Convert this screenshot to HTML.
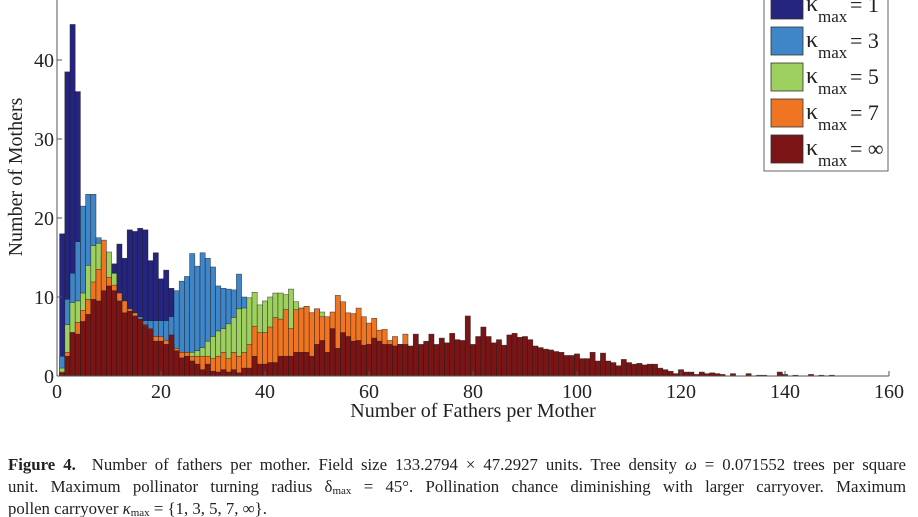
<!DOCTYPE html>
<html><head><meta charset="utf-8"><style>
html,body{margin:0;padding:0;background:#fff;}
#wrap{position:relative;width:918px;height:517px;overflow:hidden;font-family:"Liberation Serif",serif;}
#cap{position:absolute;left:8px;top:454px;width:898px;font-size:16.8px;line-height:21.8px;color:#222;}
#cap .j{display:block;text-align:justify;text-align-last:justify;white-space:nowrap;}
#cap .l{display:block;white-space:nowrap;}
#cap sub{font-size:11px;vertical-align:-2px;line-height:0;}
</style></head><body>
<div id="wrap">
<svg id="chart" width="918" height="450" style="position:absolute;left:0;top:0" font-family="Liberation Serif, serif"></svg>
<div id="cap"><span class="j"><b>Figure 4.</b>&nbsp; Number of fathers per mother. Field size 133.2794 × 47.2927 units. Tree density <i>ω</i> = 0.071552 trees per square</span><span class="j">unit. Maximum pollinator turning radius δ<sub>max</sub> = 45°. Pollination chance diminishing with larger carryover. Maximum</span><span class="l">pollen carryover <i>κ</i><sub>max</sub> = {1, 3, 5, 7, ∞}.</span></div>
</div>
<script>
const xTicks=[0,20,40,60,80,100,120,140,160];
const yTicks=[0,10,20,30,40];
const seriesLabels=["1","3","5","7","∞"];
const k1=[18,38.5,44.5,36,21,14,10,9,10,11,14.2,16.7,14.9,18.5,18.3,18.7,18.5,14.6,15.6,12.3,13.4,11.1,10,9,8,8,7,6,5,4,3.5,3,2.5,2,1.5,1,0.5];
const k3=[2.5,9.7,13,17,21.5,23,23,17.5,15,13,11,10,9,8,8,7.5,7,7,7,7,7,7.5,10.8,12,12.6,15.5,13.9,15.6,14.9,13.8,11.4,11.1,11,10.9,12.9,10,9.3,8,6,5,4,3,2,1.5,1,0.5];
const k5=[1,6.5,9.3,9.5,10.5,14,16.5,16.8,15,15.7,13,10,9,8,7,6,5.5,5,4.5,4,3.5,3.5,3,3,3,3,3.2,3.6,4.4,5,5.7,6,6.6,7.4,8.5,8.6,9.9,10.6,9,9.5,10,10.5,10.5,10.3,11,9.4,8.6,8.8,8,8.5,8.1,7,6,5,4,3,2.5,2,1.5,1,0.8,0.5];
const k7=[0.5,3,5.5,6.8,8.3,9.7,11.9,13.5,17.2,12.5,11.5,10.5,9.5,8.5,8,7,6.5,6,5,5,4.5,4,3.5,3,3,2.5,2.5,2.5,2.5,2.2,2.5,3,2.2,3,2.5,3,4,6.3,5.5,5.5,6.2,7.4,7.2,8.4,6,8.4,8.6,8.8,8,8.5,7.5,7.5,8.1,10.2,9.4,8,7.9,8.6,7.5,6.7,7.3,5.8,5.9,4.5,5,4,5.3,3.5,3,2.5,2.5,2.3,2.2,2,2,1.8,1.7,1.6,1.5,1.4,1.3,1.2,1.1,1,0.9,0.8,0.7,0.6,0.5,0.5,0.4,0.3,0.3,0.2,0.2];
const kInf=[0.4,2.5,5.5,5.3,6.9,7.8,9.7,9.5,10.8,11.4,10.8,9.5,8,8.2,7.6,7.2,6.4,5.9,4.4,4.4,4,5.2,3.2,2.3,2.5,1.9,1.5,0.8,1.5,0.6,0.5,0.8,0.5,0.8,0.4,
1,1,2.5,1.5,1.5,1.7,1.7,2.5,2.5,2.5,3,3,3,2.5,4,4.5,3,6,3.5,5.5,5,
4.4,4.5,3.9,4,4.8,4.4,4,4,3.8,4,4,3.8,5.3,4,4.4,5.3,4,4.8,4.2,5.4,4.6,4.5,7.6,4,5,6.2,
5,4.2,4.6,3.9,5.2,5.4,4.9,5,4.6,3.8,3.6,3.4,3.3,3.1,3,2.6,2.6,2.8,2.2,2.2,3,1.9,2.9,1.9,1.7,1.3,2.1,1.7,1.5,1.6,1.4,1.5,1.5,1,0.8,0.6,0.3,
0.8,0.5,0.5,0.2,0.5,0.3,0.4,0.3,0.2,0,0.3,0,0,0.3,0,0.1,0.1,0,0,0.5,0.2,0,0.1,0,0,0.2,0,0.1,0,0.1,0];
const allSeries=[k1,k3,k5,k7,kInf];
const colors=["#25247f","#3f86c8","#9dd05e","#f07523","#7b1515"];
const NS="http://www.w3.org/2000/svg";
const svg=document.getElementById('chart');
const X0=57,X1=889,Y0=376,PPU=7.9;
function sx(v){return X0+(v/160)*(X1-X0);}
function sy(v){return Y0-v*PPU;}
function mk(tag,attrs){const e=document.createElementNS(NS,tag);for(const k in attrs)e.setAttribute(k,attrs[k]);svg.appendChild(e);return e;}
allSeries.forEach((arr,s)=>{
  arr.forEach((v,i)=>{
    if(v<=0)return;
    const c=i+1;
    const r=mk('rect',{x:sx(c-0.5),y:sy(v),width:sx(c+0.5)-sx(c-0.5),height:Y0-sy(v),fill:colors[s],stroke:'#1a1a1a','stroke-width':0.6,'stroke-opacity':0.7});
    
    
  });
});
let a=mk('line',{x1:X0,y1:0,x2:X0,y2:Y0,stroke:'#555','stroke-width':1});

a=mk('line',{x1:X0,y1:Y0,x2:X1,y2:Y0,stroke:'#555','stroke-width':1});

xTicks.forEach(t=>{
  const l=mk('line',{x1:sx(t),y1:Y0,x2:sx(t),y2:Y0-5,stroke:'#555','stroke-width':1});
  
  const tx=mk('text',{x:sx(t),y:Y0+22,'text-anchor':'middle','font-size':20,fill:'#222'});
  tx.textContent=t;
  
});
yTicks.forEach(t=>{
  const l=mk('line',{x1:X0,y1:sy(t),x2:X0+5,y2:sy(t),stroke:'#555','stroke-width':1});
  
  const tx=mk('text',{x:X0-3,y:sy(t)+7,'text-anchor':'end','font-size':20,fill:'#222'});
  tx.textContent=t;
  
});
let tt=mk('text',{x:473,y:417,'text-anchor':'middle','font-size':20,fill:'#222'});
tt.textContent='Number of Fathers per Mother';

tt=mk('text',{x:0,y:0,'text-anchor':'middle','font-size':20,fill:'#222',transform:'translate(22,177) rotate(-90)'});
tt.textContent='Number of Mothers';

const lg=mk('rect',{x:764,y:-20,width:124,height:191,fill:'#fff',stroke:'#666','stroke-width':1});

seriesLabels.forEach((lab,i)=>{
  const top=-9+36*i;
  const sw=mk('rect',{x:771,y:top,width:32,height:28,fill:colors[i],stroke:'#333','stroke-width':0.8});
  
  const t1=mk('text',{x:806,y:top+20,'font-size':24,fill:'#222'});
  t1.textContent='κ';
  
  const t2=mk('text',{x:818,y:top+31,'font-size':17,fill:'#222'});
  t2.textContent='max';
  
  const t3=mk('text',{x:850,y:top+21,'font-size':22,fill:'#222'});
  t3.textContent='= '+lab;
  
});
</script>
</body></html>
